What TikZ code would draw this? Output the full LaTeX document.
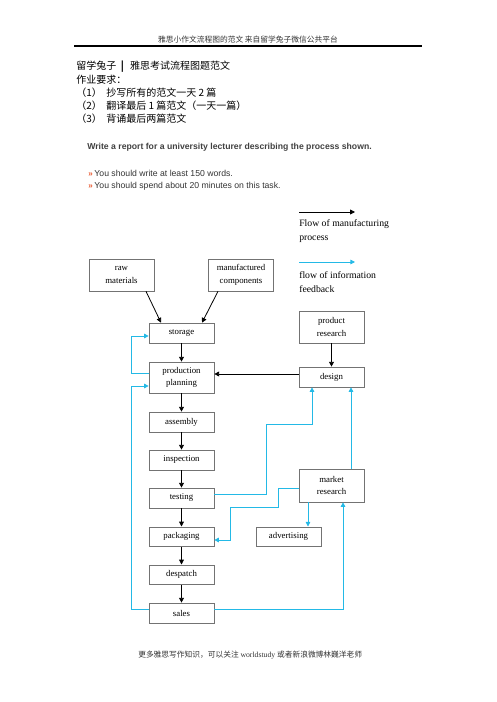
\documentclass[tikz,border=0pt]{standalone}
\usepackage{fontspec}
\setmainfont{Liberation Serif}
\newfontfamily\cjk{Noto Sans CJK SC}
\newfontfamily\arialf{Liberation Sans}
\usetikzlibrary{arrows.meta,calc}
\definecolor{fbcyan}{RGB}{35,185,230}
\definecolor{bulletred}{RGB}{232,90,50}
\begin{document}
\begin{tikzpicture}[x=0.75pt,y=-0.75pt,
  box/.style={draw=black!55,line width=0.5pt,fill=white,minimum width=48.75pt,
    inner sep=0pt,align=center,font=\fontsize{6.6}{9.5}\selectfont},
  flow/.style={draw=black,line width=0.6pt,-{Triangle[length=3.6pt,width=3.6pt]}},
  fb/.style={draw=fbcyan,line width=0.6pt,-{Triangle[length=3.4pt,width=3.4pt]}},
  cjktxt/.style={anchor=west,inner sep=0pt,font=\cjk\fontsize{7.5}{9}\selectfont},
  legtxt/.style={anchor=west,inner sep=0pt,font=\fontsize{7.3}{10.5}\selectfont,align=left}]
\useasboundingbox (0,0) rectangle (496,702);
% header
\node[inner sep=0pt,font=\cjk\fontsize{5.8}{7}\selectfont,text=black!80] (hdr) at (248,40) {雅思小作文流程图的范文\ 来自留学兔子微信公共平台};
\coordinate (hl) at (74,46);
\coordinate (hr) at (422,46);
\draw[line width=0.8pt] (hl) -- (hr);
% intro lines
\node[cjktxt] (t1) at (76,67) {留学兔子\hspace{3.5pt}\textbf{|}\hspace{4.5pt}雅思考试流程图题范文};
\node[cjktxt] (t2) at (76,80) {作业要求：};
\node[cjktxt] (t3) at (76,93) {\makebox[22.5pt][l]{（1）}抄写所有的范文一天 2 篇};
\node[cjktxt] (t4) at (76,106) {\makebox[22.5pt][l]{（2）}翻译最后 1 篇范文（一天一篇）};
\node[cjktxt] (t5) at (76,119) {\makebox[22.5pt][l]{（3）}背诵最后两篇范文};
% task
\node[anchor=west,inner sep=0pt,font=\arialf\bfseries\fontsize{6.5}{7}\selectfont,text=black!75] (task) at (87,147) {Write a report for a university lecturer describing the process shown.};
\node[anchor=west,inner sep=0pt,font=\arialf\fontsize{6.5}{7}\selectfont,text=black!80] (b1) at (88,173) {\textcolor{bulletred}{\bfseries\fontsize{6}{6}\selectfont »}\hspace{1.3pt}You should write at least 150 words.};
\node[anchor=west,inner sep=0pt,font=\arialf\fontsize{6.5}{7}\selectfont,text=black!80] (b2) at (88,186) {\textcolor{bulletred}{\bfseries\fontsize{6}{6}\selectfont »}\hspace{1.3pt}You should spend about 20 minutes on this task.};
% legend
\coordinate (l1a) at (299,212);
\coordinate (l1b) at (355,212);
\draw[flow] (l1a) -- (l1b);
\node[legtxt] (leg1) at (299,231) {Flow of manufacturing\\process};
\coordinate (l2a) at (299,262);
\coordinate (l2b) at (355,262);
\draw[fb] (l2a) -- (l2b);
\node[legtxt] (leg2) at (299,282) {flow of information\\feedback};
% boxes
\node[box,minimum height=24pt] (raw) at (121.5,275) {raw\\materials};
\node[box,minimum height=24pt] (mfc) at (241,275) {manufactured\\components};
\node[box,minimum height=15pt] (storage) at (181.5,333) {storage};
\node[box,minimum height=23.25pt] (pp) at (181.5,377.5) {production\\planning};
\node[box,minimum height=15pt] (assembly) at (181.5,422) {assembly};
\node[box,minimum height=15pt] (inspection) at (181.5,460) {inspection};
\node[box,minimum height=15pt] (testing) at (181.5,498) {testing};
\node[box,minimum height=14.5pt] (packaging) at (181.5,536.5) {packaging};
\node[box,minimum height=14.5pt] (despatch) at (181.5,574.5) {despatch};
\node[box,minimum height=15pt] (sales) at (181.5,613) {sales};
\node[box,minimum height=24pt] (prodres) at (331.5,327) {product\\research};
\node[box,minimum height=15pt] (design) at (331.5,377) {design};
\node[box,minimum height=24.75pt] (market) at (331.5,485.5) {market\\research};
\node[box,minimum height=14.5pt] (adv) at (288.5,536.5) {advertising};
% manufacturing flow
\draw[flow] ($(raw.south)+(24.5,0)$) -- ($(storage.north)+(-20.5,0)$);
\draw[flow] ($(mfc.south)+(-23,0)$) -- ($(storage.north)+(20.5,0)$);
\draw[flow] (storage) -- (pp);
\draw[flow] (pp) -- (assembly);
\draw[flow] (assembly) -- (inspection);
\draw[flow] (inspection) -- (testing);
\draw[flow] (testing) -- (packaging);
\draw[flow] (packaging) -- (despatch);
\draw[flow] (despatch) -- (sales);
\draw[flow] (prodres) -- (design);
\draw[flow] ($(design.west)+(0,-3)$) -- ($(design.west -| pp.east)+(0,-3)$);
% feedback
\draw[fb] ($(pp.west)+(0,-4.5)$) -- ++(-17,0) |- ($(storage.west)+(0,3)$);
\draw[fb] ($(sales.west)+(0,-4)$) -- ++(-17,0) |- ($(pp.west)+(0,8.5)$);
\draw[fb] ($(testing.east)+(0,-4)$) -- (266,494) -- (266,424) -- (312,424) -- ($(design.south)+(-19.5,0)$);
\draw[fb] ($(market.north)+(19.5,0)$) -- ($(design.south)+(19.5,0)$);
\draw[fb] ($(market.west)+(0,2.5)$) -- (278,488) -- (278,507) -- (230,507) -- (230,540) -- ($(packaging.east)+(0,3.5)$);
\draw[fb] ($(market.south)+(-23.5,0)$) -- ($(adv.north)+(19.5,0)$);
\draw[fb] ($(sales.east)+(0,-4)$) -- (343,609) -- ($(market.south)+(11.5,0)$);
% footer
\node[anchor=west,inner sep=0pt,font=\cjk\fontsize{5.8}{7}\selectfont,text=black!80] (ftr) at (138,655) {更多雅思写作知识，可以关注 {\rmfamily worldstudy} 或者新浪微博林巍洋老师};
\end{tikzpicture}
\end{document}
